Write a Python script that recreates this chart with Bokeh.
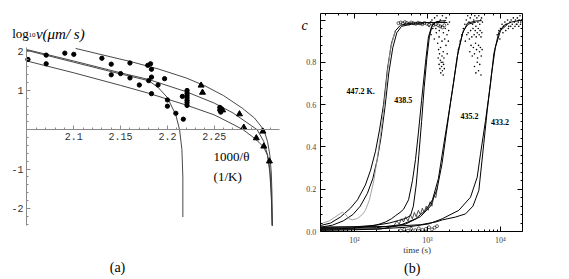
from bokeh.plotting import figure
from bokeh.layouts import row
from bokeh.models import FixedTicker, Label, LogAxis, LinearAxis, LogTicker
from bokeh.embed import file_html
from bokeh.resources import INLINE

# ---------------- Panel (a) data ----------------
dots_x = [2.051, 2.0705, 2.0705, 2.0904, 2.100, 2.130, 2.140, 2.140, 2.150, 2.160, 2.160,
          2.170, 2.180, 2.179, 2.182, 2.183, 2.183, 2.183, 2.190, 2.197, 2.200, 2.200,
          2.209, 2.216, 2.221, 2.221, 2.221, 2.221, 2.221, 2.221, 2.221, 2.217,
          2.256, 2.256, 2.257]
dots_y = [1.79, 1.90, 1.68, 1.95, 1.92, 1.82, 1.67, 1.40, 1.43, 1.70, 1.32,
          1.14, 1.25, 1.64, 1.68, 1.54, 1.34, 0.92, 1.14, 1.30, 0.76, 0.60,
          0.42, 0.85, 1.00, 0.93, 0.87, 0.81, 0.75, 0.69, 0.62, 0.27,
          0.57, 0.50, 0.45]
tri_x = [2.236, 2.2375, 2.259, 2.277, 2.2816, 2.302, 2.295, 2.303, 2.309]
tri_y = [1.13, 0.95, 0.50, 0.40, 0.06, -0.04, -0.21, -0.42, -0.80]

curve_top_x = [2.102, 2.13, 2.16, 2.19, 2.22, 2.24, 2.26, 2.28, 2.293, 2.303, 2.307, 2.3095, 2.311, 2.3118, 2.312]
curve_top_y = [2.07, 1.91, 1.74, 1.55, 1.32, 1.12, 0.87, 0.55, 0.30, 0.0, -0.30, -0.65, -1.1, -1.7, -2.44]
curve_mid_x = [2.05, 2.10, 2.15, 2.18, 2.22, 2.25, 2.27, 2.284, 2.296, 2.303, 2.307, 2.3095, 2.311, 2.312]
curve_mid_y = [2.04, 1.75, 1.45, 1.28, 0.97, 0.68, 0.43, 0.20, 0.0, -0.30, -0.65, -1.1, -1.7, -2.44]
curve_low_x = [2.05, 2.10, 2.15, 2.18, 2.22, 2.25, 2.27, 2.281, 2.29, 2.298, 2.303, 2.307, 2.3095, 2.311, 2.312]
curve_low_y = [1.75, 1.45, 1.13, 0.93, 0.63, 0.38, 0.14, 0.0, -0.16, -0.32, -0.45, -0.65, -1.0, -1.6, -2.44]
curve_vert_x = [2.05, 2.10, 2.15, 2.18, 2.19, 2.20, 2.209, 2.213, 2.2155, 2.2165, 2.2165]
curve_vert_y = [2.02, 1.72, 1.42, 1.25, 1.08, 0.82, 0.38, 0.0, -0.5, -1.2, -2.22]

xa_bounds = (2.0495, 2.3198)
ya_bounds = (-2.435, 2.094)
xa_ticks = [2.1, 2.15, 2.2, 2.25]
xa_labels = ["2.1", "2.15", "2.2", "2.25"]
ya_ticks = [-2, -1, 1, 2]
ya_labels = ["-2", "-1", "1", "2"]
xa_minor = [2.06, 2.07, 2.08, 2.09, 2.11, 2.12, 2.13, 2.14, 2.16, 2.17, 2.18, 2.19,
            2.21, 2.22, 2.23, 2.24, 2.26, 2.27, 2.28, 2.29, 2.30, 2.31]
ya_minor = [-2.4, -2.2, -1.8, -1.6, -1.4, -1.2, -0.8, -0.6, -0.4, -0.2,
            0.2, 0.4, 0.6, 0.8, 1.2, 1.4, 1.6, 1.8]

# ---------------- Panel (b) data ----------------
l447a_t = [34, 47, 64, 88, 110, 141, 166, 194, 220, 250, 283, 321, 365, 426, 584, 900, 1400, 1870]
l447a_c = [0.028, 0.04, 0.068, 0.11, 0.15, 0.22, 0.29, 0.38, 0.48, 0.60, 0.77, 0.89, 0.95, 0.975, 0.985, 0.988, 0.988, 0.988]
l447b_t = [34, 50, 70, 95, 120, 150, 178, 205, 232, 262, 295, 335, 380, 440, 600, 900]
l447b_c = [0.02, 0.03, 0.05, 0.08, 0.12, 0.18, 0.25, 0.34, 0.45, 0.59, 0.75, 0.87, 0.94, 0.97, 0.98, 0.982]
g447_t = [34, 45, 58, 68, 76, 84, 95, 110, 128, 141, 160, 184, 208, 232, 255, 280, 310, 360]
g447_c = [0.036, 0.05, 0.075, 0.091, 0.08, 0.06, 0.055, 0.062, 0.08, 0.10, 0.15, 0.24, 0.36, 0.48, 0.60, 0.74, 0.86, 0.95]
l438a_t = [34, 60, 88, 130, 166, 220, 266, 320, 365, 420, 470, 550, 622, 685, 752, 830, 940, 1030, 1140, 1290, 1500, 1800]
l438a_c = [0.012, 0.013, 0.015, 0.02, 0.025, 0.035, 0.045, 0.06, 0.075, 0.09, 0.105, 0.15, 0.24, 0.34, 0.47, 0.62, 0.8, 0.92, 0.97, 0.99, 0.995, 0.997]
l438b_t = [34, 100, 200, 300, 400, 500, 585, 640, 700, 760, 830, 900, 980, 1060, 1150, 1300, 1500]
l438b_c = [0.02, 0.022, 0.03, 0.04, 0.052, 0.062, 0.075, 0.12, 0.22, 0.36, 0.52, 0.68, 0.82, 0.92, 0.97, 0.99, 0.995]
l435a_t = [34, 100, 227, 426, 685, 940, 1170, 1410, 1650, 1940, 2270, 2570, 3010, 3520, 4540, 5500]
l435a_c = [0.005, 0.008, 0.012, 0.03, 0.06, 0.1, 0.15, 0.25, 0.4, 0.55, 0.7, 0.83, 0.935, 0.985, 0.995, 0.997]
l435b_t = [34, 200, 500, 800, 1100, 1350, 1580, 1800, 2050, 2350, 2650, 3100, 3600, 4600]
l435b_c = [0.015, 0.018, 0.035, 0.07, 0.12, 0.2, 0.32, 0.46, 0.6, 0.74, 0.86, 0.95, 0.98, 0.99]
l433a_t = [34, 200, 500, 1042, 1589, 2683, 3883, 4796, 5323, 6235, 7296, 8099, 9485, 11100, 14000, 19800]
l433a_c = [0.01, 0.012, 0.02, 0.036, 0.06, 0.1, 0.162, 0.257, 0.367, 0.525, 0.698, 0.84, 0.942, 0.974, 0.99, 1.0]
l433b_t = [34, 300, 800, 1300, 1600, 2400, 3310, 4200, 5050, 5900, 6580, 7500, 8500, 10000, 12500]
l433b_c = [0.02, 0.024, 0.032, 0.045, 0.055, 0.068, 0.083, 0.12, 0.194, 0.415, 0.572, 0.74, 0.87, 0.95, 0.98]

wig_t = [350, 380, 410, 440, 470, 500, 540, 580, 620, 660, 700, 750, 800, 850, 900, 960, 1020, 1080, 1150, 1220, 1300, 1380]
wig_c = [0.03, 0.05, 0.035, 0.06, 0.045, 0.07, 0.05, 0.08, 0.06, 0.09, 0.07, 0.1, 0.08, 0.11, 0.09, 0.12, 0.1, 0.14, 0.12, 0.17, 0.16, 0.22]
low_t = [430, 480, 540, 600, 680, 760, 850, 950, 1050, 1150, 1250, 1350]
low_c = [0.005, 0.01, 0.004, 0.012, 0.006, 0.015, 0.008, 0.012, 0.02, 0.01, 0.018, 0.025]

plat_t = [400, 430, 460, 490, 520, 560, 600, 640, 690, 740, 790, 850, 910, 980, 1050, 1130, 1210, 1300, 1400, 1500, 1600, 1700]
plat_c = [0.985, 0.988, 0.984, 0.99, 0.986, 0.983, 0.988, 0.985, 0.982, 0.987, 0.984, 0.98, 0.986, 0.982, 0.978, 0.984, 0.976, 0.98, 0.975, 0.97, 0.965, 0.975]

cl438_t = [1050, 1100, 1150, 1200, 1250, 1300, 1350, 1400, 1450, 1500, 1550, 1600, 1650, 1700, 1750, 1800, 1850, 1900, 1950, 2000,
           1120, 1180, 1240, 1320, 1380, 1440, 1510, 1580, 1640, 1720, 1790, 1860, 1930,
           1400, 1420, 1440, 1460, 1480, 1500, 1520, 1540, 1560, 1580, 1600, 1620, 1640, 1660, 1680, 1700]
cl438_c = [0.97, 0.99, 1.0, 0.98, 1.01, 0.96, 1.02, 0.99, 0.95, 1.0, 0.97, 1.02, 0.94, 0.99, 0.96, 1.01, 0.93, 0.98, 0.95, 0.99,
           0.93, 0.96, 0.91, 0.94, 0.89, 0.92, 0.87, 0.9, 0.85, 0.91, 0.88, 0.84, 0.9,
           0.82, 0.86, 0.79, 0.84, 0.77, 0.81, 0.75, 0.8, 0.78, 0.83, 0.76, 0.8, 0.74, 0.79, 0.82, 0.77]

cl435_t = [2500, 2650, 2800, 2950, 3100, 3250, 3400, 3550, 3700, 3850, 4000, 4150, 4300, 4450, 4600, 4750, 4900, 5050, 5200, 5350, 5500, 5650,
           3300, 3450, 3600, 3750, 3900, 4050, 4200, 4350, 4500, 4650, 4800, 4950, 5100, 5250, 5400, 5550,
           3800, 3950, 4100, 4250, 4400, 4550, 4700, 4850, 5000, 5150, 5300, 5450, 5600,
           4400, 4600, 4800, 5000, 5200, 5400]
cl435_c = [0.8, 0.86, 0.9, 0.93, 0.96, 0.98, 1.0, 1.02, 0.99, 1.01, 1.03, 0.98, 1.0, 1.02, 0.97, 1.01, 0.99, 1.02, 0.98, 1.0, 1.01, 0.99,
           0.9, 0.93, 0.94, 0.91, 0.95, 0.92, 0.96, 0.93, 0.95, 0.92, 0.94, 0.96, 0.93, 0.95, 0.92, 0.94,
           0.85, 0.88, 0.83, 0.87, 0.84, 0.89, 0.86, 0.82, 0.88, 0.85, 0.87, 0.83, 0.86,
           0.78, 0.75, 0.8, 0.76, 0.79, 0.74]

cl433_t = [9000, 9500, 10000, 10500, 11000, 11500, 12000, 12500, 13000, 13500, 14000, 14500, 15000, 15500, 16000, 16500, 17000, 17500, 18000, 18500, 19000, 19500,
           9800, 10800, 11800, 12800, 13800, 14800, 15800, 16800, 17800, 18800]
cl433_c = [0.93, 0.95, 0.96, 0.98, 0.97, 0.99, 0.98, 1.0, 0.97, 0.99, 1.0, 0.98, 1.01, 0.99, 1.0, 0.98, 1.01, 0.99, 1.0, 1.02, 0.99, 1.0,
           0.91, 0.94, 0.95, 0.96, 0.97, 0.96, 0.97, 0.98, 0.97, 0.98]

temp_labels = ["447.2  K.", "438.5", "435.2", "433.2"]
temp_t = [125, 464, 3760, 9840]
temp_c = [0.663, 0.624, 0.548, 0.516]

xb_bounds = (34, 19800)
yb_bounds = (0.0, 1.03)
yb_ticks = [0.0, 0.2, 0.4, 0.6, 0.8, 1.0]
yb_labels = ["0.0", "0.2", "0.4", "0.6", "0.8", ""]
yb_minor = [0.04, 0.08, 0.12, 0.16, 0.24, 0.28, 0.32, 0.36, 0.44, 0.48, 0.52, 0.56,
            0.64, 0.68, 0.72, 0.76, 0.84, 0.88, 0.92, 0.96]
xb_labels = {100: "10²", 1000: "10³", 10000: "10⁴"}
xb_blank = {10: "", 100: "", 1000: "", 10000: ""}

SERIF = "Liberation Serif"
MONO = "Liberation Mono"

# ================= Panel (a) =================
pa = figure(width=298, height=279, x_range=(2.02169, 2.34006), y_range=(-3.8092, 3.2901),
            output_backend="svg", toolbar_location=None,
            min_border_left=0, min_border_right=0, min_border_top=0, min_border_bottom=0)
pa.outline_line_color = None
pa.grid.visible = False
pa.background_fill_color = "white"
pa.border_fill_color = "white"

xa_axis = pa.below[0]
ya_axis = pa.left[0]
for ax in (xa_axis, ya_axis):
    ax.axis_line_color = "#8a8a8a"
    ax.major_tick_line_color = "#8a8a8a"
    ax.minor_tick_line_color = "#8a8a8a"
    ax.major_tick_in = 4
    ax.major_tick_out = 0
    ax.minor_tick_in = 2
    ax.minor_tick_out = 0
    ax.major_label_text_font = MONO
    ax.major_label_text_font_size = "10px"
    ax.major_label_text_color = "#333333"
    ax.major_label_standoff = 3

xa_axis.ticker = FixedTicker(ticks=xa_ticks, minor_ticks=xa_minor)
xa_axis.major_label_overrides = dict(zip(xa_ticks, xa_labels))
xa_axis.fixed_location = 0
xa_axis.bounds = xa_bounds
ya_axis.ticker = FixedTicker(ticks=ya_ticks, minor_ticks=ya_minor)
ya_axis.major_label_overrides = dict(zip(ya_ticks, ya_labels))
ya_axis.fixed_location = xa_bounds[0]
ya_axis.bounds = ya_bounds

for cx, cy in ((curve_top_x, curve_top_y), (curve_mid_x, curve_mid_y),
               (curve_low_x, curve_low_y), (curve_vert_x, curve_vert_y)):
    pa.line(cx, cy, line_color="#333333", line_width=0.9)

pa.scatter(dots_x, dots_y, marker="circle", size=4.3, fill_color="black", line_color="black")
pa.scatter(tri_x, tri_y, marker="triangle", size=6, fill_color="black", line_color="black")

pa.add_layout(Label(x=2.0342, y=2.45, text="log", text_font=SERIF, text_font_size="13px",
                    text_baseline="alphabetic", text_color="black"))
pa.add_layout(Label(x=2.0515, y=2.40, text="10", text_font=SERIF, text_font_size="7px",
                    text_baseline="alphabetic", text_color="black"))
pa.add_layout(Label(x=2.0595, y=2.45, text="v(μm/ s)", text_font=SERIF, text_font_size="15px",
                    text_font_style="italic", text_baseline="alphabetic", text_color="black"))
pa.add_layout(Label(x=2.2493, y=-0.672, text="1000/θ", text_font=SERIF, text_font_size="13px",
                    text_baseline="middle", text_color="black"))
pa.add_layout(Label(x=2.2493, y=-1.188, text="(1/K)", text_font=SERIF, text_font_size="13px",
                    text_baseline="middle", text_color="black"))
pa.add_layout(Label(x=2.1467, y=-3.50, text="(a)", text_font=SERIF, text_font_size="14px",
                    text_align="center", text_baseline="middle", text_color="black"))

# ================= Panel (b) =================
pb = figure(width=271, height=279, x_axis_type="log", x_range=(17.09, 88150), y_range=(-0.22695, 1.0922),
            output_backend="svg", toolbar_location=None,
            min_border_left=0, min_border_right=0, min_border_top=0, min_border_bottom=0)
pb.grid.visible = False
pb.outline_line_color = None
pb.background_fill_color = "white"
pb.border_fill_color = "white"

xb_axis = pb.below[0]
yb_axis = pb.left[0]
top_ax = LogAxis(ticker=LogTicker(), fixed_location=yb_bounds[1], bounds=xb_bounds)
right_ax = LinearAxis(ticker=FixedTicker(ticks=yb_ticks, minor_ticks=yb_minor),
                      fixed_location=xb_bounds[1], bounds=yb_bounds)

for ax in (xb_axis, yb_axis, top_ax, right_ax):
    ax.axis_line_color = "black"
    ax.major_tick_line_color = "black"
    ax.minor_tick_line_color = "black"
    ax.major_tick_in = 5
    ax.major_tick_out = 0
    ax.minor_tick_in = 2
    ax.minor_tick_out = 0
    ax.major_label_text_font = SERIF
    ax.major_label_text_font_size = "8px"
    ax.major_label_text_color = "#444444"
    ax.major_label_standoff = 4
top_ax.major_label_overrides = xb_blank
right_ax.major_label_overrides = {k: "" for k in yb_ticks}

xb_axis.fixed_location = yb_bounds[0]
xb_axis.bounds = xb_bounds
xb_axis.major_label_overrides = xb_labels
yb_axis.ticker = FixedTicker(ticks=yb_ticks, minor_ticks=yb_minor)
yb_axis.major_label_overrides = dict(zip(yb_ticks, yb_labels))
yb_axis.fixed_location = xb_bounds[0]
yb_axis.bounds = yb_bounds

pb.add_layout(top_ax, "above")
pb.add_layout(right_ax, "right")

for t, c in ((l447a_t, l447a_c), (l447b_t, l447b_c), (l438a_t, l438a_c), (l438b_t, l438b_c),
             (l435a_t, l435a_c), (l435b_t, l435b_c), (l433a_t, l433a_c), (l433b_t, l433b_c)):
    pb.line(t, c, line_color="black", line_width=1)
pb.line(g447_t, g447_c, line_color="#9a9a9a", line_width=0.9)
pb.line(wig_t, wig_c, line_color="#222222", line_width=0.8)
pb.scatter(low_t, low_c, marker="circle", size=3, fill_color=None, line_color="black", line_width=0.6)
pb.scatter(plat_t, plat_c, marker="circle", size=3, fill_color=None, line_color="black", line_width=0.6)
for t, c in ((cl438_t, cl438_c), (cl435_t, cl435_c), (cl433_t, cl433_c)):
    pb.scatter(t, c, marker="circle", size=1.6, fill_color="black", line_color=None)

for txt, t, c in zip(temp_labels, temp_t, temp_c):
    pb.add_layout(Label(x=t, y=c, text=txt, text_font=SERIF, text_font_size="8px",
                        text_font_style="bold", text_align="center", text_baseline="middle",
                        text_color="black"))

pb.add_layout(Label(x=20.65, y=0.974, text="c", text_font=SERIF, text_font_size="14px",
                    text_font_style="italic", text_align="center", text_baseline="middle",
                    text_color="black"))
pb.add_layout(Label(x=722.6, y=-0.0898, text="time (s)", text_font=SERIF, text_font_size="9px",
                    text_align="center", text_baseline="middle", text_color="#333333"))
pb.add_layout(Label(x=617, y=-0.1735, text="(b)", text_font=SERIF, text_font_size="14px",
                    text_align="center", text_baseline="middle", text_color="black"))

layout = row(pa, pb)
open("out.html", "w").write(file_html(layout, INLINE))
